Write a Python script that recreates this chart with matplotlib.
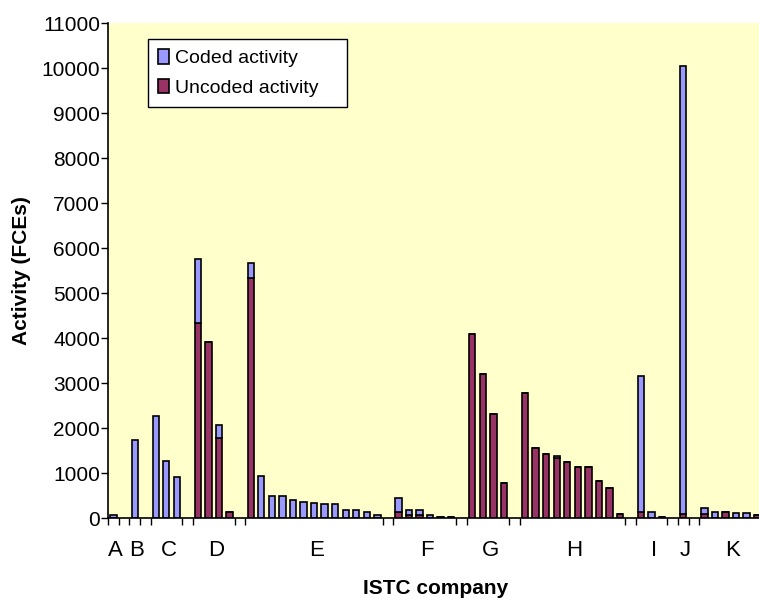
import matplotlib.pyplot as plt
import numpy as np

plt.rcParams['font.family'] = ['Liberation Sans', 'DejaVu Sans']

# Data (FCEs), one list per ISTC company group
groups = ['A', 'B', 'C', 'D', 'E', 'F', 'G', 'H', 'I', 'J', 'K']
coded = [
    [80],
    [1750],
    [2280, 1280, 920],
    [1420, 0, 290, 0],
    [320, 930, 500, 500, 400, 360, 330, 320, 320, 180, 180, 140, 70],
    [320, 105, 105, 60, 10, 10],
    [0, 0, 0, 0],
    [0, 0, 0, 40, 0, 0, 0, 0, 0, 0],
    [3020, 140, 10],
    [9940],
    [120, 150, 0, 110, 110, 0],
]
uncoded = [
    [0],
    [0],
    [0, 0, 0],
    [4340, 3920, 1780, 140],
    [5340, 0, 0, 0, 0, 0, 0, 0, 0, 0, 0, 0, 0],
    [140, 80, 80, 15, 30, 30],
    [4100, 3210, 2310, 780],
    [2780, 1570, 1420, 1340, 1250, 1140, 1140, 830, 680, 100],
    [130, 0, 30],
    [100],
    [100, 0, 150, 0, 0, 70],
]

# build bar slots: one empty slot between groups
xs, cod, unc, centers, bounds = [], [], [], [], [-0.5]
pos = 0
for gi, g in enumerate(groups):
    n = len(coded[gi])
    idx = list(range(pos, pos + n))
    xs += idx
    cod += coded[gi]
    unc += uncoded[gi]
    centers.append((idx[0] + idx[-1]) / 2)
    pos += n
    if gi < len(groups) - 1:
        bounds += [pos - 0.5, pos + 0.5]
        pos += 1
xs = np.array(xs)
cod = np.array(cod)
unc = np.array(unc)

fig = plt.figure(figsize=(7.59, 6.01), dpi=100)
ax = fig.add_axes([0.1427, 0.1376, 0.8618, 0.8241])
ax.set_facecolor('#FFFFCC')

c_col = '#9999FF'
u_col = '#993366'
b1 = ax.bar(xs, unc, width=0.6, color=u_col, edgecolor='black', linewidth=1.2)
b2 = ax.bar(xs, cod, width=0.6, bottom=unc, color=c_col, edgecolor='black', linewidth=1.2)

ax.set_xlim(-0.5, pos - 0.5)
ax.set_ylim(0, 11000)
ax.set_yticks(np.arange(0, 11001, 1000))
ax.tick_params(axis='y', labelsize=15, length=5, width=1, direction='out', pad=1)
ax.set_xticks(bounds)
ax.set_xticklabels([])
ax.tick_params(axis='x', length=5, width=1, direction='out')

for sp in ['top', 'right']:
    ax.spines[sp].set_visible(False)
for sp in ['left', 'bottom']:
    ax.spines[sp].set_linewidth(1.2)

trans = ax.get_xaxis_transform()
for c, g in zip(centers, groups):
    ax.text(c + 0.2, -0.066, g, transform=trans, ha='center', va='center', fontsize=16)

ax.text(0.5, -0.1417, 'ISTC company', transform=ax.transAxes, ha='center', va='center',
        fontsize=15, fontweight='bold')
ax.text(-0.132, 0.5, 'Activity (FCEs)', transform=ax.transAxes, ha='center', va='center',
        fontsize=15, fontweight='bold', rotation=90)

leg = ax.legend([b2, b1], ['Coded activity', 'Uncoded activity'], loc='upper left',
                bbox_to_anchor=(0.0607, 0.830, 0.304, 0.1377), mode='expand',
                fontsize=14, frameon=True, fancybox=False,
                edgecolor='black', framealpha=1, handlelength=0.6, handleheight=0.8,
                handletextpad=0.3, borderpad=0.5, labelspacing=0.6, borderaxespad=0)
leg.get_frame().set_linewidth(1)

fig.savefig('out.png', dpi=100)
